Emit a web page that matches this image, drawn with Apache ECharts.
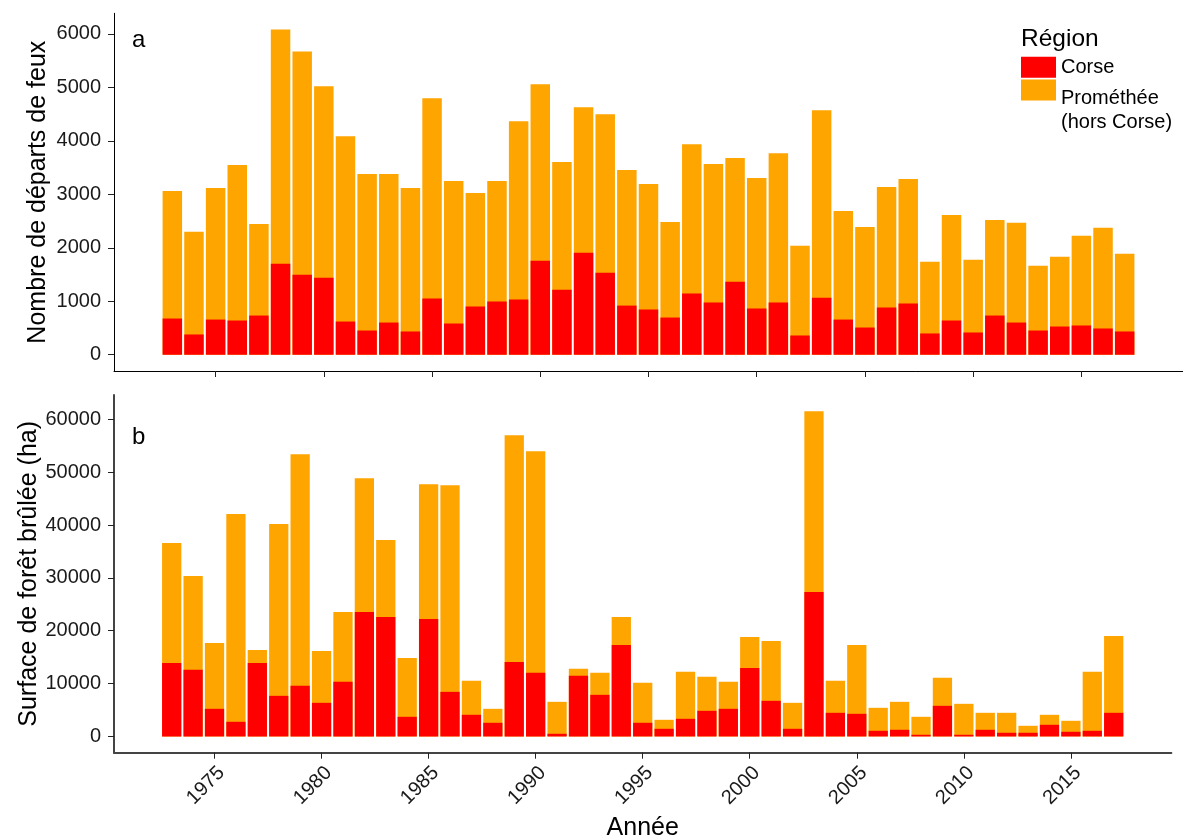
<!DOCTYPE html>
<html><head><meta charset="utf-8">
<script src="https://cdn.jsdelivr.net/npm/echarts@6/dist/echarts.min.js"></script>
<style>html,body{margin:0;padding:0;background:#fff}#c{width:1183px;height:838px}</style>
</head><body><div id="c"></div>
<script>
const years = [1973,1974,1975,1976,1977,1978,1979,1980,1981,1982,1983,1984,1985,1986,1987,1988,1989,1990,1991,1992,1993,1994,1995,1996,1997,1998,1999,2000,2001,2002,2003,2004,2005,2006,2007,2008,2009,2010,2011,2012,2013,2014,2015,2016,2017];
// Number of fire starts: Corse part and total (Corse + Prométhée hors Corse)
const firesCorse = [677,379,658,640,733,1702,1497,1441,621,453,602,435,1050,584,901,994,1031,1758,1217,1907,1534,919,845,696,1143,975,1366,863,975,360,1068,658,509,882,956,398,640,416,733,602,453,528,547,491,435];
const firesTotal = [3062,2298,3118,3547,2447,6081,5671,5019,4087,3379,3379,3118,4795,3248,3025,3248,4366,5056,3602,4627,4497,3453,3192,2484,3938,3565,3677,3304,3770,2037,4571,2689,2391,3137,3286,1739,2615,1776,2522,2466,1665,1832,2224,2373,1888];
// Burnt forest area (ha): Corse part and total
const areaCorse = [13916,12594,5227,2771,13916,7682,9571,6360,10327,23551,22606,3715,22228,8438,4093,2582,14105,12027,504,11461,7871,17317,2582,1448,3337,4849,5227,12972,6738,1448,27329,4471,4282,1070,1259,315,5793,315,1259,693,693,2204,882,1070,4471];
const areaTotal = [36586,30352,17695,42064,16372,40175,53399,16183,23551,48865,37152,14861,47731,47542,10516,5227,56988,53965,6549,12783,12027,22606,10138,3149,12216,11272,10327,18828,18072,6360,61522,10516,17317,5415,6549,3715,11083,6171,4471,4471,2015,4093,2960,12216,19017];
const xTicks = [1975,1980,1985,1990,1995,2000,2005,2010,2015];
const firesTicks = [0,1000,2000,3000,4000,5000,6000];
const areaTicks = [0,10000,20000,30000,40000,50000,60000];

const FONT = 'Liberation Sans, Arial, Helvetica, sans-serif';
const TXT = '#1a1a1a';

function pairs(vals) { return years.map((y, i) => [y, vals[i]]); }
function yRange(tot) {
  const m = Math.max(...tot);
  return [-0.05 * m, 1.05 * m];
}
const xLo = years[0] - 0.45, xHi = years[years.length - 1] + 0.45;
const xMin = xLo - 0.05 * (xHi - xLo), xMax = xHi + 0.05 * (xHi - xLo);
const fR = yRange(firesTotal);
const aR = yRange(areaTotal);

function xAxis(idx, withLabels, lineColor, lineWidth) {
  const ax = {
    type: 'value', gridIndex: idx, min: xMin, max: xMax,
    axisLine: { show: true, onZero: false, lineStyle: { color: lineColor, width: lineWidth } },
    axisTick: { show: true, customValues: xTicks, length: 6, lineStyle: { color: '#222', width: 1 } },
    splitLine: { show: false },
    axisLabel: { show: false }
  };
  if (withLabels) {
    ax.axisLabel = {
      show: true, customValues: xTicks, rotate: 45, align: 'right', verticalAlign: 'top',
      margin: 10, fontSize: 20, fontFamily: FONT, color: TXT, formatter: v => String(v)
    };
    ax.name = 'Année';
    ax.nameLocation = 'middle';
    ax.nameGap = 63;
    ax.nameMoveOverlap = false;
    ax.nameTextStyle = { fontSize: 25, fontFamily: FONT, color: '#000' };
  }
  return ax;
}
function yAxis(idx, range, ticks, name, gap, lineColor, lineWidth) {
  return {
    type: 'value', gridIndex: idx, min: range[0], max: range[1],
    axisLine: { show: true, onZero: false, lineStyle: { color: lineColor, width: lineWidth } },
    axisTick: { show: true, customValues: ticks, length: 6, lineStyle: { color: '#222', width: 1 } },
    axisLabel: { show: true, customValues: ticks, margin: 13, fontSize: 20, fontFamily: FONT, color: TXT, formatter: v => String(v) },
    splitLine: { show: false },
    name: name, nameLocation: 'middle', nameGap: gap, nameMoveOverlap: false,
    nameTextStyle: { fontSize: 25, fontFamily: FONT, color: '#000' }
  };
}
const RED = '#FF0000', ORANGE = '#FFA500';
function bar(name, idx, vals, color) {
  return {
    type: 'bar', name: name, xAxisIndex: idx, yAxisIndex: idx,
    data: pairs(vals), barWidth: '90%', barGap: '-100%', itemStyle: { color: color },
    emphasis: { disabled: true }, animation: false
  };
}

const chart = echarts.init(document.getElementById('c'), null, { renderer: 'canvas' });
chart.setOption({
  animation: false,
  backgroundColor: '#fff',
  textStyle: { fontFamily: FONT },
  grid: [
    { left: 114, right: 0, top: 13.3, height: 357.7, containLabel: false, outerBoundsMode: 'none' },
    { left: 114, right: 11.6, top: 395, height: 357.7, containLabel: false, outerBoundsMode: 'none' }
  ],
  xAxis: [xAxis(0, false, '#000', 1), xAxis(1, true, '#444', 2)],
  yAxis: [
    yAxis(0, fR, firesTicks, 'Nombre de départs de feux', 63, '#000', 1),
    yAxis(1, aR, areaTicks, 'Surface de forêt brûlée (ha)', 72, '#444', 2)
  ],
  legend: {
    orient: 'vertical', left: 1021, top: 56.7, padding: 0, itemGap: 1.8,
    itemWidth: 35, itemHeight: 21, icon: 'rect', selectedMode: false,
    textStyle: {
      fontSize: 20, fontFamily: FONT, color: '#000',
      rich: {
        p: { fontSize: 20, fontFamily: FONT, color: '#000', padding: [16, 0, 0, 0] }
      }
    },
    formatter: n => n === 'Prométhée' ? '{p|Prométhée}' : n,
    data: ['Corse', 'Prométhée']
  },
  graphic: [
    { type: 'text', x: 1021, y: 39, style: { text: 'Région', font: '24.5px ' + FONT, fill: '#000', textAlign: 'left', textVerticalAlign: 'middle', align: 'left', verticalAlign: 'middle' } },
    { type: 'text', x: 1061, y: 122, style: { text: '(hors Corse)', font: '20px ' + FONT, fill: '#000', textAlign: 'left', textVerticalAlign: 'middle', align: 'left', verticalAlign: 'middle' } },
    { type: 'text', x: 132, y: 40, style: { text: 'a', font: '24px ' + FONT, fill: '#000', textAlign: 'left', textVerticalAlign: 'middle', align: 'left', verticalAlign: 'middle' } },
    { type: 'text', x: 132, y: 437, style: { text: 'b', font: '24px ' + FONT, fill: '#000', textAlign: 'left', textVerticalAlign: 'middle', align: 'left', verticalAlign: 'middle' } }
  ],
  series: [
    bar('Prométhée', 0, firesTotal, ORANGE),
    bar('Corse', 0, firesCorse, RED),
    bar('Prométhée', 1, areaTotal, ORANGE),
    bar('Corse', 1, areaCorse, RED)
  ]
});
</script>
</body></html>
